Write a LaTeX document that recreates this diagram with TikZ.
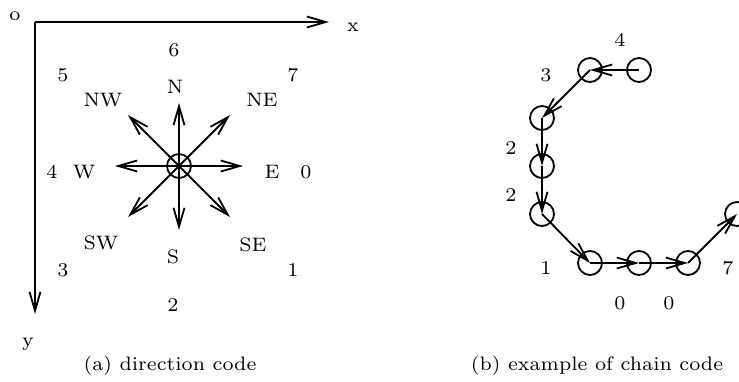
\documentclass[tikz,border=0pt]{standalone}
\usepackage{fontspec}
\setmainfont{lmroman7-regular.otf}
\usetikzlibrary{arrows.meta}
\newcommand\lblfont{\fontsize{19.5pt}{23pt}\selectfont}
\begin{document}
\begin{tikzpicture}[x=1pt,y=-1pt,
  lw/.style={line width=1.8pt},
  arr/.style={lw,-{Straight Barb[length=19pt,width=11pt,line width=1.8pt]}},
  lbl/.style={font=\lblfont,inner sep=0pt},
  pt/.style={circle,draw,line width=1.8pt,minimum size=24pt,inner sep=0pt}]
\useasboundingbox (0,0) rectangle (739,382);
\clip (0,0) rectangle (739,382);
% axes
\coordinate (O) at (35,22);
\coordinate (X) at (329,22);
\coordinate (Y) at (35,314);
\draw[arr] (O) -- (X);
\draw[arr] (O) -- (Y);
\node[lbl] (lo) at (15,16) {o};
\node[lbl] (lx) at (353,27) {x};
\node[lbl] (ly) at (28,344) {y};
% compass
\node[pt] (c) at (179,166) {};
\coordinate (tN) at (179,103);
\coordinate (tS) at (179,230);
\coordinate (tE) at (243,166);
\coordinate (tW) at (115,166);
\coordinate (tNE) at (230,115);
\coordinate (tSE) at (230,217);
\coordinate (tNW) at (128,115);
\coordinate (tSW) at (128,217);
\foreach \t in {tN,tS,tE,tW,tNE,tSE,tNW,tSW}
  \draw[arr] (c.center) -- (\t);
\node[lbl] (lN) at (175,87) {N};
\node[lbl] (lNE) at (262,100) {NE};
\node[lbl] (lE) at (272,172) {E};
\node[lbl] (lSE) at (253,245) {SE};
\node[lbl] (lS) at (173,257) {S};
\node[lbl] (lSW) at (101,243) {SW};
\node[lbl] (lW) at (84,172) {W};
\node[lbl] (lNW) at (103,100) {NW};
\node[lbl] (n6) at (174,50) {6};
\node[lbl] (n7) at (293,75) {7};
\node[lbl] (n0) at (306,172) {0};
\node[lbl] (n1) at (293,270) {1};
\node[lbl] (n2) at (173,305) {2};
\node[lbl] (n3) at (63,270) {3};
\node[lbl] (n4) at (52,172) {4};
\node[lbl] (n5) at (63,75) {5};
\node[lbl] (capa) at (170,366) {(a) direction code};
% chain
\node[pt] (p1) at (639,70) {};
\node[pt] (p2) at (590,70) {};
\node[pt] (p3) at (542,118) {};
\node[pt] (p4) at (542,166) {};
\node[pt] (p5) at (542,214) {};
\node[pt] (p6) at (590,263) {};
\node[pt] (p7) at (639,263) {};
\node[pt] (p8) at (688,263) {};
\node[pt] (p9) at (737,214) {};
\draw[arr] (p1.center) -- (p2.center);
\draw[arr] (p2.center) -- (p3.center);
\draw[arr] (p3.center) -- (p4.center);
\draw[arr] (p4.center) -- (p5.center);
\draw[arr] (p5.center) -- (p6.center);
\draw[arr] (p6.center) -- (p7.center);
\draw[arr] (p7.center) -- (p8.center);
\draw[arr] (p8.center) -- (p9.center);
\node[lbl] (c4) at (620,40) {4};
\node[lbl] (c3) at (546,75) {3};
\node[lbl] (c2a) at (511,148) {2};
\node[lbl] (c2b) at (511,195) {2};
\node[lbl] (c1) at (546,268) {1};
\node[lbl] (c0a) at (620,303) {0};
\node[lbl] (c0b) at (669,303) {0};
\node[lbl] (c7) at (728,268) {7};
\node[lbl] (capb) at (597,366) {(b) example of chain code};
\end{tikzpicture}
\end{document}
